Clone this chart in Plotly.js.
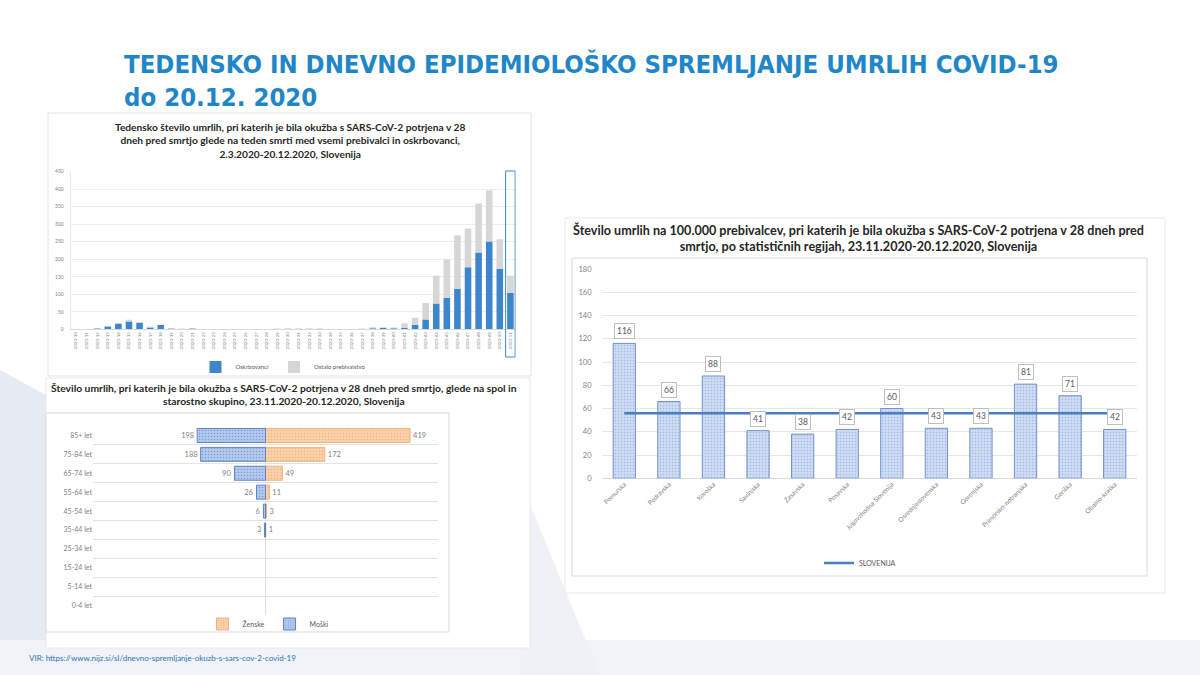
<!DOCTYPE html>
<html><head><meta charset="utf-8">
<script src="https://cdn.plot.ly/plotly-3.0.1.min.js"></script>
<style>html,body{margin:0;padding:0;background:#fff}#chart{width:1200px;height:675px}</style>
</head><body><div id="chart"></div>
<script>
// ---- Chart 1: weekly deaths ----
const weeks = ['2020-10','2020-11','2020-12','2020-13','2020-14','2020-15','2020-16','2020-17','2020-18','2020-19',
  '2020-20','2020-21','2020-22','2020-23','2020-24','2020-25','2020-26','2020-27','2020-28','2020-29',
  '2020-30','2020-31','2020-32','2020-33','2020-34','2020-35','2020-36','2020-37','2020-38','2020-39',
  '2020-40','2020-41','2020-42','2020-43','2020-44','2020-45','2020-46','2020-47','2020-48','2020-49',
  '2020-50','2020-51'];
const oskrbovanci = [0,1,2,8,15,22,19,5,12,2, 1,2,0,0,0,0,0,0,0,0, 1,1,1,1,0,0,0,0,3,4, 3,4,12,28,74,90,116,177,219,251, 173,104];
const ostaloPrebivalstvo = [0,0,0,1,3,5,2,2,1,2, 1,1,0,0,1,0,0,0,1,2, 2,2,2,2,1,1,0,2,3,2, 2,13,21,47,79,109,152,111,140,145, 84,49];

// ---- Chart 2: sex and age group ----
const ageGroups = ['0-4 let','5-14 let','15-24 let','25-34 let','35-44 let','45-54 let','55-64 let','65-74 let','75-84 let','85+ let'];
const zenske = [0,0,0,0,1,3,11,49,172,419];
const moski = [0,0,0,0,3,6,26,90,188,198];

// ---- Chart 3: regions per 100,000 ----
const regions = ['Pomurska','Podravska','Koroška','Savinjska','Zasavska','Posavska','Jugovzhodna Slovenija',
  'Osrednjeslovenska','Gorenjska','Primorsko-notranjska','Goriška','Obalno-kraška'];
const regionRates = [116,66,88,41,38,42,60,43,43,81,71,42];
const slovenija = [56,56,56,56,56,56,56,56,56,56,56,56];

const W = 1200, H = 675;
const px = x => x / W, py = y => 1 - y / H;
const F = 'Lato, "Open Sans", sans-serif';
const TICK = '#7f7f7f';

const traces = [
  {type:'bar', x:weeks, y:oskrbovanci, name:'Oskrbovanci', xaxis:'x', yaxis:'y', width:0.62,
   marker:{color:'#3d86cb'}, legend:'legend', hoverinfo:'skip'},
  {type:'bar', x:weeks, y:ostaloPrebivalstvo, name:'Ostalo prebivalstvo', xaxis:'x', yaxis:'y', width:0.62,
   marker:{color:'#d6d6d6'}, legend:'legend', hoverinfo:'skip'},
  {type:'bar', orientation:'h', y:ageGroups, x:zenske.map(v => v || null), name:'Ženske', xaxis:'x2', yaxis:'y2', width:0.74,
   text:zenske.map(v => v ? String(v) : ''), textposition:'outside', cliponaxis:false,
   textfont:{family:F, size:7.5, color:TICK},
   marker:{color:'#f9cda3', line:{color:'#f2b27a', width:1},
     pattern:{shape:'.', bgcolor:'#fad2ab', fgcolor:'#f0b47e', size:3, solidity:0.2}},
   legend:'legend2', hoverinfo:'skip'},
  {type:'bar', orientation:'h', y:ageGroups, x:moski.map(v => v ? -v : null), name:'Moški', xaxis:'x2', yaxis:'y2', width:0.74,
   text:moski.map(v => v ? String(v) : ''), textposition:'outside', cliponaxis:false,
   textfont:{family:F, size:7.5, color:TICK},
   marker:{color:'#adc5ec', line:{color:'#5f82c4', width:1},
     pattern:{shape:'.', bgcolor:'#b3caee', fgcolor:'#7b9bd3', size:3, solidity:0.2}},
   legend:'legend2', hoverinfo:'skip'},
  {type:'bar', x:regions, y:regionRates, name:'Regije', xaxis:'x3', yaxis:'y3', width:0.5, showlegend:false,
   marker:{color:'#c8d8f1', line:{color:'#7193cb', width:1},
     pattern:{shape:'.', bgcolor:'#cddcf3', fgcolor:'#9fb7e2', size:3, solidity:0.2}},
   hoverinfo:'skip'},
  {type:'scatter', mode:'lines', x:regions, y:slovenija, name:'SLOVENIJA', xaxis:'x3', yaxis:'y3',
   line:{color:'#4a7ebf', width:2.5}, legend:'legend3', hoverinfo:'skip'}
];

const annotations = [
  {xref:'paper', yref:'paper', x:px(122), y:py(47), xanchor:'left', yanchor:'top', align:'left', showarrow:false,
   text:'<b>TEDENSKO IN DNEVNO EPIDEMIOLOŠKO SPREMLJANJE UMRLIH COVID-19<br>do 20.12. 2020</b>',
   font:{family:'"DejaVu Sans Condensed", "DejaVu Sans", sans-serif', size:25.5, color:'#1f86c8'}},
  {xref:'paper', yref:'paper', x:px(290), y:py(119), xanchor:'center', yanchor:'top', align:'center', showarrow:false,
   text:'<b>Tedensko število umrlih, pri katerih je bila okužba s SARS-CoV-2 potrjena v 28<br>dneh pred smrtjo glede na teden smrti med vsemi prebivalci in oskrbovanci,<br>2.3.2020-20.12.2020, Slovenija</b>',
   font:{family:F, size:10.2, color:'#262626'}},
  {xref:'paper', yref:'paper', x:px(284), y:py(380), xanchor:'center', yanchor:'top', align:'center', showarrow:false,
   text:'<b>Število umrlih, pri katerih je bila okužba s SARS-CoV-2 potrjena v 28 dneh pred smrtjo, glede na spol in<br>starostno skupino, 23.11.2020-20.12.2020, Slovenija</b>',
   font:{family:F, size:10.3, color:'#262626'}},
  {xref:'paper', yref:'paper', x:px(858), y:py(220), xanchor:'center', yanchor:'top', align:'center', showarrow:false,
   text:'<b>Število umrlih na 100.000 prebivalcev, pri katerih je bila okužba s SARS-CoV-2 potrjena v 28 dneh pred<br>smrtjo, po statističnih regijah, 23.11.2020-20.12.2020, Slovenija</b>',
   font:{family:F, size:12.6, color:'#262626'}},
  {xref:'paper', yref:'paper', x:px(27), y:py(658), xanchor:'left', yanchor:'middle', showarrow:false,
   text:'VIR: https://www.nijz.si/sl/dnevno-spremljanje-okuzb-s-sars-cov-2-covid-19',
   font:{family:F, size:8, color:'#2f74b5'}}
];
regions.forEach((r, i) => {
  annotations.push({xref:'x3', yref:'y3', x:r, y:regionRates[i], yanchor:'bottom', yshift:4, showarrow:false,
    text:String(regionRates[i]), bgcolor:'#ffffff', bordercolor:'#bfbfbf', borderwidth:1, borderpad:2,
    font:{family:F, size:8.5, color:'#595959'}});
});

const shapes = [
  // slide background tints
  {type:'path', xref:'paper', yref:'paper', layer:'below', line:{width:0}, fillcolor:'#e6eaf2',
   path:`M 0 ${py(370)} L ${px(560)} ${py(675)} L 0 ${py(675)} Z`},
  {type:'rect', xref:'paper', yref:'paper', layer:'below', line:{width:0}, fillcolor:'#f1f3f8',
   x0:0, x1:1, y0:0, y1:py(640)},
  {type:'path', xref:'paper', yref:'paper', layer:'below', line:{width:0}, fillcolor:'#eef1f6',
   path:`M ${px(520)} ${py(480)} L ${px(600)} ${py(675)} L ${px(520)} ${py(675)} Z`},
  // panels
  {type:'rect', xref:'paper', yref:'paper', layer:'below', line:{color:'#e3e3e3', width:1}, fillcolor:'#ffffff',
   x0:px(48), x1:px(531), y0:py(376), y1:py(113)},
  {type:'rect', xref:'paper', yref:'paper', layer:'below', line:{color:'#e9e9e9', width:1}, fillcolor:'#ffffff',
   x0:px(46), x1:px(530), y0:py(648), y1:py(378)},
  {type:'rect', xref:'paper', yref:'paper', layer:'below', line:{color:'#d9d9d9', width:1}, fillcolor:'#ffffff',
   x0:px(46), x1:px(449), y0:py(632), y1:py(413)},
  {type:'rect', xref:'paper', yref:'paper', layer:'below', line:{color:'#e9e9e9', width:1}, fillcolor:'#ffffff',
   x0:px(565), x1:px(1165), y0:py(593), y1:py(218)},
  {type:'rect', xref:'paper', yref:'paper', layer:'below', line:{color:'#d9d9d9', width:1}, fillcolor:'#ffffff',
   x0:px(572), x1:px(1147), y0:py(576), y1:py(258)},
  // highlight of last week
  {type:'rect', xref:'x', yref:'paper', layer:'above', line:{color:'#3d86cb', width:1}, fillcolor:'rgba(0,0,0,0)',
   x0:weeks.length - 1 - 0.45, x1:weeks.length - 1 + 0.45, y0:py(357), y1:py(171)}
];

const layout = {
  width:W, height:H, margin:{l:0, r:0, t:0, b:0},
  paper_bgcolor:'#ffffff', plot_bgcolor:'rgba(0,0,0,0)',
  barmode:'relative', showlegend:true,
  font:{family:F, color:TICK},
  xaxis:{domain:[px(70.7), px(515.7)], anchor:'y', type:'category', tickangle:-90,
    tickfont:{size:4.5, color:TICK}, showline:true, linecolor:'#d9d9d9', showgrid:false, ticks:'', fixedrange:true},
  yaxis:{domain:[py(329.3), py(171.7)], anchor:'x', range:[0,450], dtick:50, tickfont:{size:5, color:TICK},
    gridcolor:'#ececec', zeroline:false, showline:true, linecolor:'#e6e6e6', ticks:'outside', ticklen:5, tickcolor:'rgba(0,0,0,0)'},
  xaxis2:{domain:[px(93), px(438)], anchor:'y2', range:[-500,500], showticklabels:false, showgrid:false,
    zeroline:true, zerolinecolor:'#e0e0e0', zerolinewidth:1},
  yaxis2:{domain:[py(615), py(426)], anchor:'x2', type:'category', categoryarray:ageGroups, categoryorder:'array',
    tickson:'boundaries', showgrid:true, gridcolor:'#e3e3e3', tickfont:{size:7, color:TICK},
    ticks:'outside', ticklen:8, tickcolor:'rgba(0,0,0,0)'},
  xaxis3:{domain:[px(602), px(1137)], anchor:'y3', type:'category', tickangle:-45,
    tickfont:{size:6.5, color:TICK}, showgrid:false, showline:false, ticks:''},
  yaxis3:{domain:[py(478.3), py(269)], anchor:'x3', range:[0,180], dtick:20, tickfont:{size:7.5, color:TICK},
    gridcolor:'#e6e6e6', zeroline:true, zerolinecolor:'#d9d9d9', ticks:'outside', ticklen:8, tickcolor:'rgba(0,0,0,0)'},
  legend:{x:px(283), y:py(367), xanchor:'center', yanchor:'middle', orientation:'h',
    font:{size:6, color:'#595959'}, bgcolor:'rgba(0,0,0,0)', itemwidth:30, tracegroupgap:0},
  legend2:{x:px(268), y:py(624), xanchor:'center', yanchor:'middle', orientation:'h',
    font:{size:7, color:'#595959'}, bgcolor:'rgba(0,0,0,0)', itemwidth:30, traceorder:'normal'},
  legend3:{x:px(860), y:py(563), xanchor:'center', yanchor:'middle', orientation:'h',
    font:{size:7, color:'#595959'}, bgcolor:'rgba(0,0,0,0)', itemwidth:30},
  annotations:annotations,
  shapes:shapes
};

Plotly.newPlot('chart', traces, layout, {staticPlot:true, displayModeBar:false});
</script></body></html>
